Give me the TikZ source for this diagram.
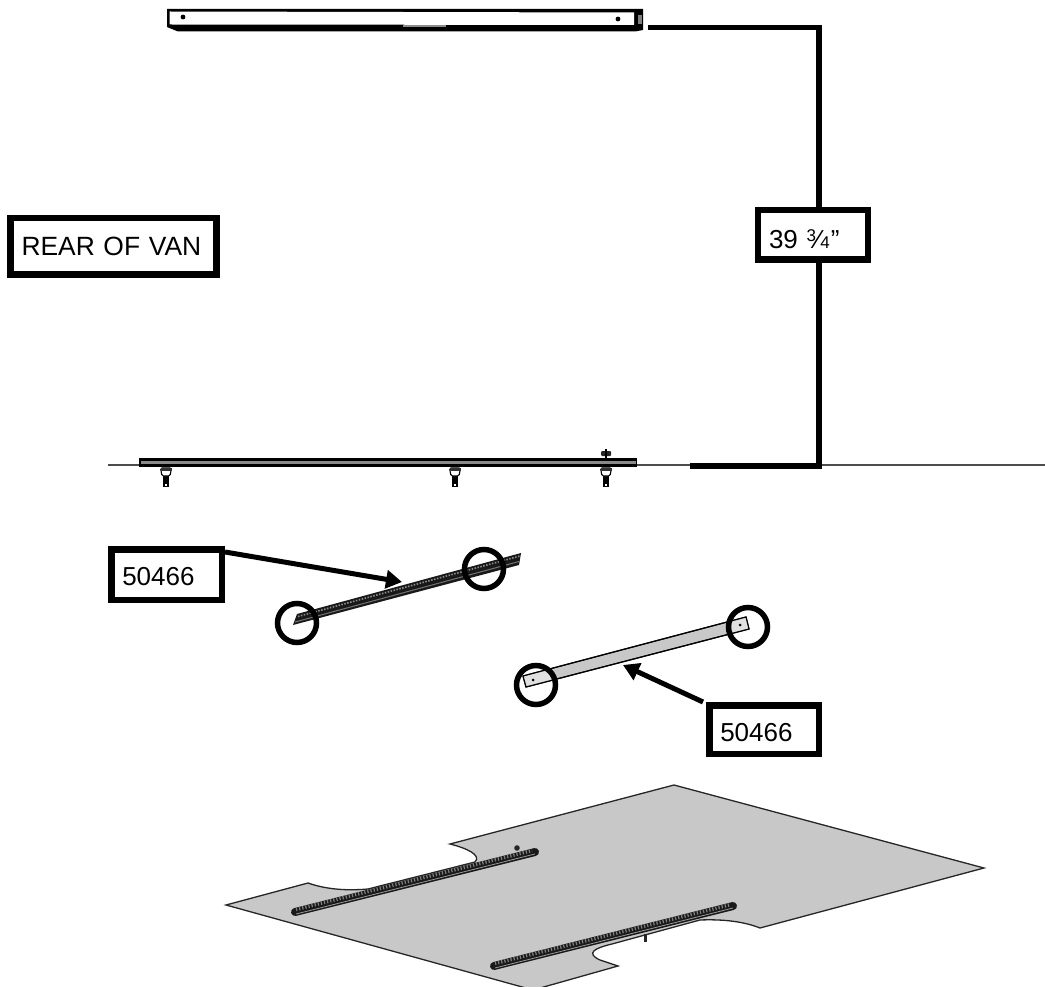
\documentclass[tikz,border=0pt]{standalone}
\usepackage{fontspec}
\setmainfont{Liberation Sans}
\usetikzlibrary{arrows.meta}
\definecolor{sheet}{HTML}{C8C8C8}
\definecolor{railgrey}{HTML}{8A8A8A}
\tikzset{
  labelbox/.style={draw=black,line width=6.5pt,fill=white,inner xsep=11pt,inner ysep=0pt,align=left,
     font=\fontsize{26}{30}\selectfont,anchor=center},
  dimline/.style={line width=5.5pt,draw=black},
  callout/.style={line width=5pt,draw=black,-{Triangle[length=16pt,width=18pt]}},
  ring/.style={draw=black,line width=5.5pt,circle,minimum size=39pt,inner sep=0pt},
  thinfloor/.style={draw=black!70,line width=2pt},
  edge/.style={draw=black!85,line width=1.3pt},
  bolt/.pic={
    \fill[black] (-2.8,11) rectangle (2.8,22);
    \fill[white] (-1,19) rectangle (0.6,21);
    \draw[black,line width=1.1pt,fill=white,rounded corners=1.5pt] (-5.5,3) -- (5.5,3) -- (4,11) -- (-4,11) -- cycle;
    \fill[black!80] (-5.5,3) rectangle (5.5,5.5);
  }
}
\begin{document}
\begin{tikzpicture}[x=1pt,y=-1pt]
\useasboundingbox (0,0) rectangle (1045,987);

% ---- top bar
\fill[black] (167,9) -- (643,9) -- (643,30) -- (635,31.5) -- (178,31.5) -- (167,27) -- cycle;
\fill[white] (169.5,11.5) -- (634,12.5) -- (634,25) -- (169.5,24.5) -- cycle;
\fill[black!45] (403,25) rectangle (446,27);
\fill[black!50] (637.5,15) rectangle (641.5,24);
\fill[black] (183,17) circle (2.4);
\fill[black] (618,19) circle (2.4);

% ---- floor line and side-view rail
\draw[thinfloor] (108,464.5) -- (1045,464.5);
\fill[black] (139,458) rectangle (637,467);
\fill[railgrey] (141,461) rectangle (636,463.5);
\pic at (166,465) {bolt};
\pic at (455,465) {bolt};
\pic at (606,465) {bolt};
\fill[black!85,rounded corners=1pt] (601,451) rectangle (611,456);
\fill[black] (605,449) rectangle (607,458);

% ---- dimension
\node[labelbox,text width=88pt,minimum height=49.5pt] (dimBox) at (813,235)
   {\raisebox{0pt}[28pt][0pt]{\mbox{39 \raisebox{7pt}{\fontsize{17}{17}\selectfont 3}⁄{\fontsize{17}{17}\selectfont 4}\kern1pt”}}};
\coordinate (dimTop) at (648,27.5);
\coordinate (dimCornerTop) at (819,27.5);
\coordinate (dimCornerBottom) at (819,466);
\coordinate (dimFloor) at (690,466);
\draw[dimline] (dimTop) -- (dimCornerTop) -- (dimCornerTop |- dimBox.north);
\draw[dimline] (dimCornerBottom |- dimBox.south) -- (dimCornerBottom) -- (dimFloor);

\node[labelbox,text width=184pt,minimum height=56.5pt] (rearBox) at (113.5,246.5)
   {\raisebox{0pt}[18pt][0pt]{\mbox{\fontsize{26.4}{30}\selectfont REAR OF VAN}}};

% ---- rail part with ribs
\fill[black!90] (293,625) -- (297,614) -- (521,553) -- (519,565) -- cycle;
\draw[black!45,line width=1.6pt,dash pattern=on 1.5pt off 1.5pt] (298,616.5) -- (520,556);
\draw[black!55,line width=1pt] (295,622) -- (519,561.5);
\node[ring] (ringA) at (297,623) {};
\node[ring] (ringB) at (484,569) {};

% ---- channel part
\filldraw[fill=sheet,draw=black,line width=1.1pt] (523,676) -- (746,617) -- (749,629) -- (526,687) -- cycle;
\fill[black!12] (523,676) -- (551,668.7) -- (554,679.7) -- (526,687) -- cycle;
\fill[black!12] (746,617) -- (730,621.2) -- (733,633) -- (749,629) -- cycle;
\draw[black,line width=1.2pt] (523,676) -- (746,617) -- (749,629) -- (526,687) -- cycle;
\fill[black] (533,680) circle (1.5);
\fill[black] (740,625) circle (1.5);
\node[ring] (ringC) at (536,685) {};
\node[ring] (ringD) at (748,627) {};

% ---- part labels and arrows
\node[labelbox,text width=88.5pt,minimum height=50.5pt] (partA) at (166.5,574.5) {\raisebox{0pt}[21pt][0pt]{50466}};
\node[labelbox,text width=87.5pt,minimum height=48.5pt] (partB) at (764,729.5) {\raisebox{0pt}[23pt][0pt]{50466}};
\coordinate (partATip) at (402,582);
\coordinate (partAStart) at (225,552);
\coordinate (partBTip) at (623,665);
\coordinate (partBStart) at (703,702);
\draw[callout] (partAStart) -- (partATip);
\draw[callout] (partBStart) -- (partBTip);

% ---- floor sheet
\filldraw[fill=sheet,edge] (226,905) -- (308,883)
   .. controls (325,889) and (345,891) .. (368,889)
   -- (475,862) .. controls (482,855) and (466,848) .. (450,844)
   -- (674,785) -- (984,868) -- (760,928)
   .. controls (745,922) and (725,919) .. (700,920)
   -- (612,944) .. controls (595,948) and (585,953) .. (600,960)
   -- (618,966) -- (533,990) -- cycle;

% rails on the sheet
\draw[black!90,line width=8pt,line cap=round] (295,912) -- (535,852);
\draw[black!50,line width=3.5pt,dash pattern=on 1.2pt off 2pt] (296,909.5) -- (532,850.5);
\draw[black!40,line width=.8pt] (296,914) -- (535,854);
\fill[black!85] (517,848) circle (2.8);
\draw[black!90,line width=8pt,line cap=round] (494,966) -- (733,906);
\draw[black!50,line width=3.5pt,dash pattern=on 1.2pt off 2pt] (495,963.5) -- (729,905);
\draw[black!40,line width=.8pt] (495,968) -- (733,908);
\fill[black!85] (643.5,934) rectangle (647,942);
\end{tikzpicture}
\end{document}
